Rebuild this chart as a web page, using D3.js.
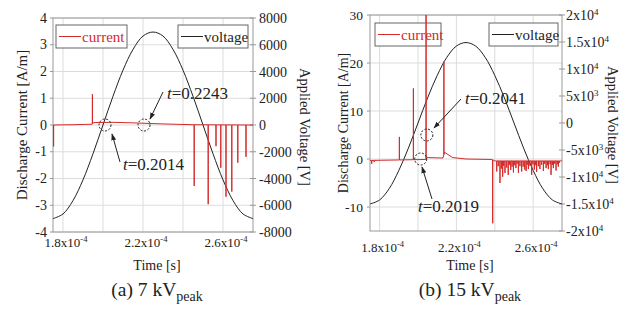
<!DOCTYPE html>
<html>
<head>
<meta charset="utf-8">
<style>
  body { margin: 0; background: #fff; }
</style>
<script src="https://d3js.org/d3.v7.min.js"></script>
</head>
<body>
<svg id="svg" width="628" height="311"></svg>
<script>
// time in microseconds
const timeGrid = [180, 200, 220, 240, 260];
const timeTicks = [180, 220, 260];
const timeTickText = ["1.8x10^-4", "2.2x10^-4", "2.6x10^-4"];

// applied voltage read every 5 us
const voltTime = [175, 180, 185, 190, 195, 200, 205, 210, 215, 220, 225, 230, 235, 240, 245, 250, 255, 260, 265, 270, 275];
const voltageA = [-7000, -6650, -5650, -4100, -2150, 0, 2150, 4100, 5650, 6650, 6950, 6650, 5650, 4100, 2150, 0, -2150, -4100, -5650, -6650, -7000];
const voltageB = [-15000, -14250, -12150, -8800, -4650, 0, 4650, 8800, 12150, 14250, 14900, 14250, 12150, 8800, 4650, 0, -4650, -8800, -12150, -14250, -15000];

// (a) 7 kV current
const baseTimeA = [175, 185, 194.6, 195.2, 205, 215, 230, 245, 275];
const baseCurrA = [0, 0.01, 0.03, 0.09, 0.1, 0.08, 0.04, 0.01, 0];
const spikeTimeA = [175.3, 194.7, 245.6, 252.6, 256.5, 258.9, 261.5, 264.4, 267.4, 271.5];
const spikeCurrA = [-0.8, 1.15, -2.28, -2.96, -0.79, -1.6, -2.68, -2.49, -1.41, -1.19];

// (b) 15 kV current
const baseTimeB = [175, 190, 204, 204.6, 213, 213.8, 218, 225, 238.5, 240, 275];
const baseCurrB = [-0.3, -0.2, -0.1, 0.3, 0.2, 1.4, 0.3, 0, -0.1, -0.4, -0.4];
const spikeTimeB = [175.9, 177.2, 190.3, 197.6, 204.2, 213.5, 238.9,
  241.0, 241.8, 242.7, 243.4, 244.1, 244.6, 245.3, 246.2, 247.0, 247.6, 248.3, 249.0, 249.7, 250.4,
  251.0, 251.6, 252.3, 253.1, 254.0, 254.8, 255.6, 256.3, 256.9, 257.5, 258.3, 259.2, 259.9, 260.6,
  261.3, 261.8, 262.7, 263.5, 264.4, 265.3, 266.0, 266.7, 267.4, 267.9, 268.8, 269.3, 270.0, 270.5,
  271.2, 271.9, 272.6, 273.1, 273.6];
const spikeCurrB = [-1.0, -0.6, 4.6, 14.7, 40, 20.3, -13.4,
  -2.6, -1.5, -5.0, -2.0, -3.7, -1.4, -2.9, -1.8, -3.3, -1.2, -2.3, -1.6, -2.8, -1.3,
  -1.9, -1.0, -2.9, -1.5, -2.6, -1.6, -2.2, -2.5, -1.2, -2.1, -1.4, -3.3, -1.1, -2.2,
  -1.3, -2.7, -1.5, -2.1, -1.2, -2.5, -1.0, -1.9, -1.3, -2.1, -1.1, -3.3, -1.2, -1.9,
  -1.0, -2.4, -1.1, -1.6, -0.8];

const leftTicksA = [-4, -3, -2, -1, 0, 1, 2, 3, 4];
const rightTicksA = [-8000, -6000, -4000, -2000, 0, 2000, 4000, 6000, 8000];
const rightTextA = ["-8000", "-6000", "-4000", "-2000", "0", "2000", "4000", "6000", "8000"];
const leftTicksB = [-10, 0, 10, 20, 30];
const rightTicksB = [-20000, -15000, -10000, -5000, 0, 5000, 10000, 15000, 20000];
const rightTextB = ["-2x10^4", "-1.5x10^4", "-1x10^4", "-5x10^3", "0", "5x10^3", "1x10^4", "1.5x10^4", "2x10^4"];

const svg = d3.select("#svg")
  .attr("font-family", "'Liberation Serif', 'Times New Roman', Times, serif")
  .attr("fill", "#222");

svg.append("defs").append("marker")
  .attr("id", "arrow").attr("viewBox", "0 0 10 10")
  .attr("refX", 9).attr("refY", 5)
  .attr("markerWidth", 7).attr("markerHeight", 7)
  .attr("orient", "auto-start-reverse")
  .append("path").attr("d", "M0,1.5 L10,5 L0,8.5 Z").attr("fill", "#222");

function supText(sel, str, supSize) {
  let parts = str.split("^");
  sel.append("tspan").text(parts[0]);
  if (parts.length > 1) {
    sel.append("tspan").attr("dy", -5).attr("font-size", supSize).text(parts[1]);
  }
}

function drawPanel(p) {
  let x = d3.scaleLinear().domain([175, 275]).range(p.xr);
  let yl = d3.scaleLinear().domain(p.leftDom).range(p.yr);
  let yr = d3.scaleLinear().domain(p.rightDom).range(p.yr);
  let g = svg.append("g");

  let clipId = "clip" + p.id;
  g.append("clipPath").attr("id", clipId).append("rect")
    .attr("x", p.xr[0]).attr("y", p.yr[1])
    .attr("width", p.xr[1] - p.xr[0]).attr("height", p.yr[0] - p.yr[1]);

  // grid
  g.selectAll(".gx").data(timeGrid).enter().append("line")
    .attr("x1", d => x(d)).attr("x2", d => x(d))
    .attr("y1", p.yr[0]).attr("y2", p.yr[1])
    .attr("stroke", "#dcdcdc").attr("stroke-width", 1);
  g.selectAll(".gy").data(p.leftTicks).enter().append("line")
    .attr("x1", p.xr[0]).attr("x2", p.xr[1])
    .attr("y1", d => yl(d)).attr("y2", d => yl(d))
    .attr("stroke", "#dcdcdc").attr("stroke-width", 1);

  // frame
  g.append("rect").attr("x", p.xr[0]).attr("y", p.yr[1])
    .attr("width", p.xr[1] - p.xr[0]).attr("height", p.yr[0] - p.yr[1])
    .attr("fill", "none").attr("stroke", "#999");

  // tick marks
  g.selectAll(".tl").data(p.leftTicks).enter().append("line")
    .attr("x1", p.xr[0] - 3).attr("x2", p.xr[0])
    .attr("y1", d => yl(d)).attr("y2", d => yl(d)).attr("stroke", "#999");
  g.selectAll(".tr").data(p.rightTicks).enter().append("line")
    .attr("x1", p.xr[1] - 3).attr("x2", p.xr[1] + 3)
    .attr("y1", d => yr(d)).attr("y2", d => yr(d)).attr("stroke", "#999");

  // tick labels
  g.selectAll(".ll").data(p.leftTicks).enter().append("text")
    .attr("x", p.xr[0] - p.leftPad).attr("y", d => yl(d) + 4.5)
    .attr("text-anchor", "end").attr("font-size", p.leftLabelSize)
    .text(d => d);
  g.selectAll(".rl").data(p.rightTicks).enter().append("text")
    .attr("x", p.xr[1] + p.rightPad).attr("y", d => yr(d) + 5)
    .attr("font-size", 14)
    .each(function (d, i) { supText(d3.select(this), p.rightText[i], 9); });
  g.selectAll(".xl").data(timeTicks).enter().append("text")
    .attr("x", d => x(d) + 3).attr("y", p.xLabelY)
    .attr("text-anchor", "middle").attr("font-size", 13)
    .each(function (d, i) { supText(d3.select(this), timeTickText[i], 8.5); });

  // axis titles
  let cy = (p.yr[0] + p.yr[1]) / 2;
  g.append("text").attr("transform", `translate(${p.leftTitleX},${cy}) rotate(-90)`)
    .attr("text-anchor", "middle").attr("font-size", p.leftTitleSize).text("Discharge Current [A/m]");
  g.append("text").attr("transform", `translate(${p.rightTitleX},${cy + 2}) rotate(90)`)
    .attr("text-anchor", "middle").attr("font-size", 14.5).text("Applied Voltage [V]");
  let mx = (p.xr[0] + p.xr[1]) / 2 + 4;
  g.append("text").attr("x", mx).attr("y", 270)
    .attr("text-anchor", "middle").attr("font-size", 14).text("Time [s]");
  let cap = g.append("text").attr("x", mx).attr("y", 296)
    .attr("text-anchor", "middle").attr("font-size", 19.5);
  cap.append("tspan").text(p.caption);
  cap.append("tspan").attr("dy", 5).attr("font-size", 14).text("peak");

  // legends
  let lg = p.legend;
  [["current", "#d42a2a", lg.c], ["voltage", "#222", lg.v]].forEach(([name, col, b]) => {
    g.append("rect").attr("x", b[0]).attr("y", b[1]).attr("width", b[2]).attr("height", 23)
      .attr("fill", "#fff").attr("stroke", "#666");
    g.append("line").attr("x1", b[0] + 3).attr("x2", b[0] + 25)
      .attr("y1", b[1] + 11.5).attr("y2", b[1] + 11.5).attr("stroke", col);
    g.append("text").attr("x", b[0] + 26).attr("y", b[1] + 16.5)
      .attr("font-size", 15).attr("fill", col).text(name);
  });

  // voltage
  let vline = d3.line().x((d, i) => x(voltTime[i])).y(d => yr(d)).curve(d3.curveCatmullRom);
  g.append("path").datum(p.voltage).attr("d", vline)
    .attr("fill", "none").attr("stroke", "#222").attr("stroke-width", 1);

  // current: baseline with spikes
  let base = d3.scaleLinear().domain(p.baseT).range(p.baseI);
  let pts = p.baseT.map((t, i) => [t, p.baseI[i]]);
  p.spikeT.forEach((t, i) => {
    pts.push([t - 0.04, base(t)], [t, p.spikeI[i]], [t + 0.04, base(t)]);
  });
  pts.sort((a, b) => a[0] - b[0]);
  g.append("path").datum(pts)
    .attr("clip-path", `url(#${clipId})`)
    .attr("d", d3.line().x(d => x(d[0])).y(d => yl(d[1])))
    .attr("fill", "none").attr("stroke", "#d42a2a").attr("stroke-width", 1);

  // annotations
  p.circles.forEach(c => {
    g.append("circle").attr("cx", x(c[0])).attr("cy", yl(c[1])).attr("r", 6)
      .attr("fill", "none").attr("stroke", "#222").attr("stroke-dasharray", "2,1.6");
  });
  p.notes.forEach(n => {
    g.append("line").attr("x1", n.from[0]).attr("y1", n.from[1])
      .attr("x2", n.to[0]).attr("y2", n.to[1])
      .attr("stroke", "#222").attr("marker-end", "url(#arrow)");
    let t = g.append("text").attr("x", n.tx).attr("y", n.ty).attr("font-size", 17);
    t.append("tspan").attr("font-style", "italic").text("t");
    t.append("tspan").text("=" + n.label);
  });
}

drawPanel({
  id: "a", xr: [53, 253], yr: [232, 18],
  leftDom: [-4, 4], rightDom: [-8000, 8000],
  leftTicks: leftTicksA, rightTicks: rightTicksA, rightText: rightTextA,
  leftPad: 6, leftLabelSize: 14, rightPad: 6, xLabelY: 247,
  leftTitleX: 27, leftTitleSize: 15, rightTitleX: 300,
  caption: "(a) 7 kV",
  legend: { c: [56, 25, 71], v: [178, 25, 70] },
  voltage: voltageA,
  baseT: baseTimeA, baseI: baseCurrA, spikeT: spikeTimeA, spikeI: spikeCurrA,
  circles: [[201, 0], [220.5, 0]],
  notes: [
    { from: [163, 92], to: [150, 119], tx: 167, ty: 99, label: "0.2243" },
    { from: [120, 162], to: [112, 134], tx: 123, ty: 170, label: "0.2014" }
  ]
});

drawPanel({
  id: "b", xr: [370, 562], yr: [231, 15],
  leftDom: [-15, 30], rightDom: [-20000, 20000],
  leftTicks: leftTicksB, rightTicks: rightTicksB, rightText: rightTextB,
  leftPad: 7, leftLabelSize: 13.5, rightPad: 4, xLabelY: 252,
  leftTitleX: 348, leftTitleSize: 14, rightTitleX: 608,
  caption: "(b) 15 kV",
  legend: { c: [375, 23, 66], v: [489, 23, 69] },
  voltage: voltageB,
  baseT: baseTimeB, baseI: baseCurrB, spikeT: spikeTimeB, spikeI: spikeCurrB,
  circles: [[204.6, 5], [201.4, 0]],
  notes: [
    { from: [461, 99], to: [434, 128], tx: 465, ty: 104, label: "0.2041" },
    { from: [432, 199], to: [422, 167], tx: 418, ty: 212, label: "0.2019" }
  ]
});
</script>
</body>
</html>
